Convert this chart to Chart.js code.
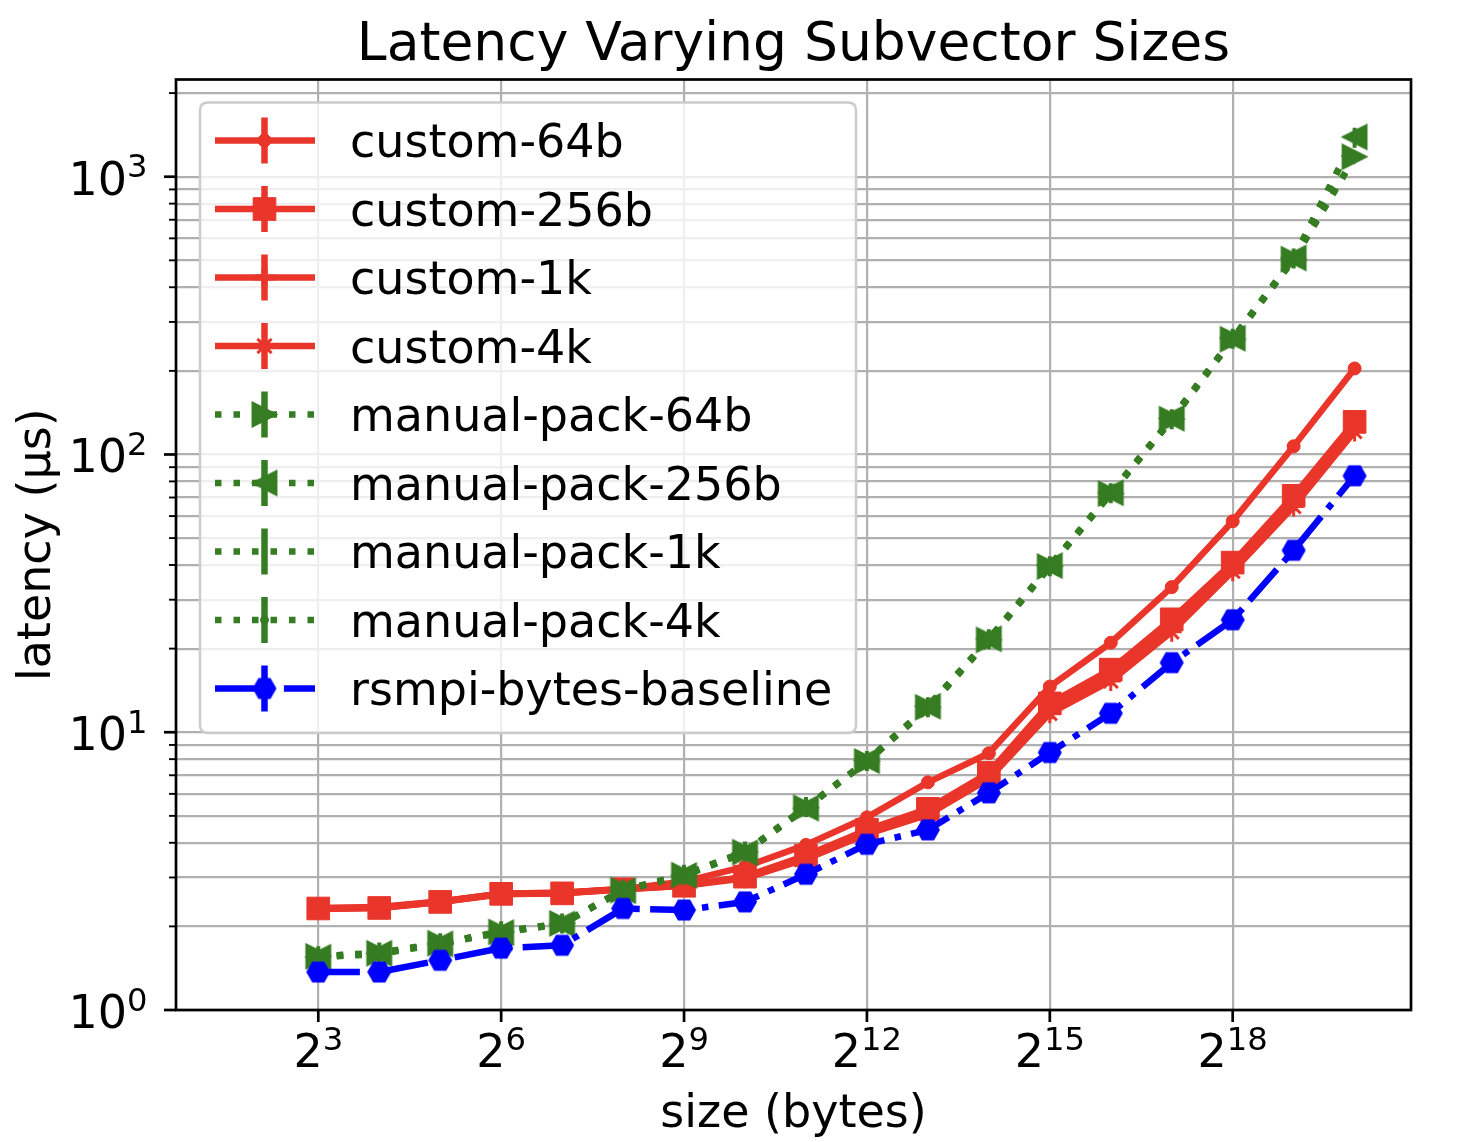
<!DOCTYPE html>
<html>
<head>
<meta charset="utf-8">
<script src="https://cdn.jsdelivr.net/npm/chart.js@4.4.1/dist/chart.umd.min.js"></script>
<style>
  html, body { margin: 0; padding: 0; background: #ffffff; }
  #wrap { width: 1472px; height: 1142px; position: relative; }
</style>
</head>
<body>
<div id="wrap"><canvas id="c" width="1472" height="1142"></canvas></div>
<script>
// ---------------- data ----------------
const sizes = [8, 16, 32, 64, 128, 256, 512, 1024, 2048, 4096, 8192, 16384, 32768, 65536, 131072, 262144, 524288, 1048576];

const custom64b  = [2.33, 2.35, 2.46, 2.62, 2.65, 2.72, 2.90, 3.28, 3.93, 4.94, 6.60, 8.40, 14.6, 21.0, 33.3, 57.5, 107, 204];
const custom256b = [2.32, 2.33, 2.45, 2.62, 2.63, 2.72, 2.80, 3.02, 3.60, 4.45, 5.30, 7.15, 12.7, 16.8, 25.5, 40.8, 71.0, 131];
const custom1k   = [2.32, 2.34, 2.46, 2.62, 2.64, 2.73, 2.82, 3.00, 3.55, 4.35, 5.15, 6.95, 12.1, 16.0, 24.5, 39.5, 68.0, 127];
const custom4k   = [2.31, 2.33, 2.45, 2.61, 2.63, 2.72, 2.80, 2.98, 3.50, 4.30, 5.05, 6.80, 11.7, 15.3, 23.0, 38.0, 65.0, 121];

const manual64b  = [1.56, 1.60, 1.74, 1.91, 2.05, 2.70, 3.06, 3.70, 5.35, 7.85, 12.3, 21.5, 39.5, 72.3, 134, 260, 505, 1180];
const manual256b = [1.55, 1.60, 1.73, 1.90, 2.04, 2.69, 3.05, 3.68, 5.33, 7.90, 12.4, 21.7, 39.8, 72.8, 135, 262, 510, 1390];
const manual1k   = [1.56, 1.61, 1.74, 1.92, 2.05, 2.71, 3.07, 3.72, 5.38, 7.88, 12.3, 21.6, 39.6, 72.5, 134, 261, 508, 1380];
const manual4k   = [1.55, 1.59, 1.73, 1.91, 2.04, 2.70, 3.05, 3.69, 5.34, 7.84, 12.2, 21.4, 39.4, 72.1, 133, 259, 503, 1170];

const rsmpiBaseline = [1.37, 1.37, 1.51, 1.67, 1.71, 2.32, 2.29, 2.45, 3.08, 3.95, 4.45, 6.05, 8.45, 11.7, 17.8, 25.4, 45.2, 83.8];

const seriesLabels = ['custom-64b', 'custom-256b', 'custom-1k', 'custom-4k',
  'manual-pack-64b', 'manual-pack-256b', 'manual-pack-1k', 'manual-pack-4k', 'rsmpi-bytes-baseline'];

const xTickExponents = [3, 6, 9, 12, 15, 18];
const yTickExponents = [0, 1, 2, 3];

const titleText = 'Latency Varying Subvector Sizes';
const xLabelText = 'size (bytes)';
const yLabelText = 'latency (µs)';

// ---------------- styles ----------------
const RED = '#e9352a';
const GREEN = '#367c22';
const BLUE = '#0000ff';
const LW = 6.5;
const DOTTED = [6.5, 12];
const DASHDOT = [41.6, 10.4, 6.5, 10.4];
const FONT = '"DejaVu Sans", "Liberation Sans", sans-serif';

function makeHex(color, r) {
  const s = Math.ceil(2 * r + 2);
  const c = document.createElement('canvas');
  c.width = s; c.height = s;
  const g = c.getContext('2d');
  g.fillStyle = color;
  g.beginPath();
  for (let k = 0; k < 6; k++) {
    const a = k * Math.PI / 3;
    const px = s / 2 + r * Math.cos(a), py = s / 2 + r * Math.sin(a);
    if (k === 0) g.moveTo(px, py); else g.lineTo(px, py);
  }
  g.closePath();
  g.fill();
  return c;
}
// matplotlib-style triangle (bbox-centred), dir = 1 -> right, -1 -> left
function makeTri(color, h, dir) {
  const s = Math.ceil(2 * h + 4);
  const c = document.createElement('canvas');
  c.width = s; c.height = s;
  const g = c.getContext('2d');
  const m = s / 2;
  g.fillStyle = color;
  g.strokeStyle = color;
  g.lineWidth = 1.5;
  g.lineJoin = 'miter';
  g.beginPath();
  g.moveTo(m + dir * h, m);
  g.lineTo(m - dir * h, m - h);
  g.lineTo(m - dir * h, m + h);
  g.closePath();
  g.fill();
  g.stroke();
  return c;
}
const hexImg = makeHex(BLUE, 12);
const triRight = makeTri(GREEN, 12.2, 1);
const triLeft = makeTri(GREEN, 12.2, -1);

function mk(label, values, color, dash, style, radius, rotation, pbw, order) {
  return {
    label,
    data: sizes.map((s, i) => ({ x: s, y: values[i] })),
    borderColor: color,
    backgroundColor: color,
    borderWidth: LW,
    borderDash: dash,
    borderJoinStyle: 'round',
    borderCapStyle: 'butt',
    pointStyle: style,
    pointRadius: radius,
    pointHoverRadius: radius,
    pointRotation: rotation,
    pointBorderWidth: pbw,
    pointBackgroundColor: color,
    pointBorderColor: color,
    tension: 0,
    fill: false,
    order
  };
}

const datasets = [
  mk(seriesLabels[0], custom64b,  RED,   [], 'circle', 6.5, 0, 1, 8),
  mk(seriesLabels[1], custom256b, RED,   [], 'rect', 16, 0, 1, 7),
  mk(seriesLabels[2], custom1k,   RED,   [], 'cross', 10, 0, 6, 6),
  mk(seriesLabels[3], custom4k,   RED,   [], 'star', 10, 0, 3, 5),
  mk(seriesLabels[4], manual64b,  GREEN, DOTTED, triRight, 13, 0, 0, 4),
  mk(seriesLabels[5], manual256b, GREEN, DOTTED, triLeft, 13, 0, 0, 3),
  mk(seriesLabels[6], manual1k,   GREEN, DOTTED, 'line', 10, 90, 4, 2),
  mk(seriesLabels[7], manual4k,   GREEN, DOTTED, 'circle', 4, 0, 1, 1),
  mk(seriesLabels[8], rsmpiBaseline, BLUE, DASHDOT, hexImg, 12, 0, 0, 0)
];

// ---------------- decorations plugin ----------------
function drawPower(ctx, base, exp, xLeft, baseY, expY, size) {
  ctx.font = size + 'px ' + FONT;
  ctx.fillText(base, xLeft, baseY);
  const wb = ctx.measureText(base).width;
  ctx.font = (size * 0.7) + 'px ' + FONT;
  ctx.fillText(exp, xLeft + wb, expY);
}
function powWidth(ctx, base, exp, size) {
  ctx.font = size + 'px ' + FONT;
  const wb = ctx.measureText(base).width;
  ctx.font = (size * 0.7) + 'px ' + FONT;
  return wb + ctx.measureText(exp).width;
}

const decor = {
  id: 'decor',
  afterDatasetsDraw(chart) {
    const ctx = chart.ctx;
    const ca = chart.chartArea;
    const xs = chart.scales.x, ys = chart.scales.y;
    const TS = 46;
    ctx.save();
    ctx.setLineDash([]);
    ctx.fillStyle = '#000';
    ctx.strokeStyle = '#000';
    ctx.textBaseline = 'alphabetic';
    ctx.textAlign = 'left';

    // spines
    ctx.lineWidth = 2.7;
    ctx.strokeRect(ca.left, ca.top, ca.right - ca.left, ca.bottom - ca.top);

    // x ticks
    ctx.lineWidth = 2.7;
    xTickExponents.forEach(e => {
      const px = xs.getPixelForValue(Math.pow(2, e));
      ctx.beginPath(); ctx.moveTo(px, ca.bottom); ctx.lineTo(px, ca.bottom + 12); ctx.stroke();
      const w = powWidth(ctx, '2', String(e), TS);
      drawPower(ctx, '2', String(e), px - w / 2, ca.bottom + 57, ca.bottom + 40, TS);
    });

    // y ticks (major + minor)
    yTickExponents.forEach(e => {
      const py = ys.getPixelForValue(Math.pow(10, e));
      ctx.lineWidth = 2.7;
      ctx.beginPath(); ctx.moveTo(ca.left, py); ctx.lineTo(ca.left - 12, py); ctx.stroke();
      const w = powWidth(ctx, '10', String(e), TS);
      drawPower(ctx, '10', String(e), ca.left - 28.5 - w, py + 18, py + 0.5, TS);
    });
    ctx.lineWidth = 1.9;
    ys.ticks.forEach(t => {
      const lg = Math.log10(t.value);
      if (Math.abs(lg - Math.round(lg)) < 1e-9) return;
      const py = ys.getPixelForValue(t.value);
      ctx.beginPath(); ctx.moveTo(ca.left, py); ctx.lineTo(ca.left - 7, py); ctx.stroke();
    });

    // title
    ctx.font = '53.5px ' + FONT;
    ctx.textAlign = 'center';
    ctx.fillText(titleText, (ca.left + ca.right) / 2, 60);

    // x label
    ctx.font = TS + 'px ' + FONT;
    ctx.fillText(xLabelText, (ca.left + ca.right) / 2, 1127);

    // y label
    ctx.save();
    ctx.translate(50, (ca.top + ca.bottom) / 2);
    ctx.rotate(-Math.PI / 2);
    ctx.fillText(yLabelText, 0, 0);
    ctx.restore();

    // legend
    const lx = 200, ly = 102.5, lw = 656, lh = 630.5, rr = 8;
    ctx.beginPath();
    ctx.moveTo(lx + rr, ly);
    ctx.lineTo(lx + lw - rr, ly);
    ctx.quadraticCurveTo(lx + lw, ly, lx + lw, ly + rr);
    ctx.lineTo(lx + lw, ly + lh - rr);
    ctx.quadraticCurveTo(lx + lw, ly + lh, lx + lw - rr, ly + lh);
    ctx.lineTo(lx + rr, ly + lh);
    ctx.quadraticCurveTo(lx, ly + lh, lx, ly + lh - rr);
    ctx.lineTo(lx, ly + rr);
    ctx.quadraticCurveTo(lx, ly, lx + rr, ly);
    ctx.closePath();
    ctx.fillStyle = 'rgba(255,255,255,0.8)';
    ctx.fill();
    ctx.strokeStyle = '#cccccc';
    ctx.lineWidth = 2.5;
    ctx.stroke();

    ctx.textAlign = 'left';
    chart.data.datasets.forEach((d, i) => {
      const cy = 140.5 + i * 68.5;
      // line sample
      ctx.save();
      ctx.strokeStyle = d.borderColor;
      ctx.lineWidth = LW;
      ctx.lineCap = 'butt';
      ctx.setLineDash(d.borderDash || []);
      ctx.beginPath(); ctx.moveTo(215, cy); ctx.lineTo(315, cy); ctx.stroke();
      ctx.setLineDash([]);
      // error bar
      ctx.lineWidth = 6.5;
      ctx.beginPath(); ctx.moveTo(264.5, cy - 23); ctx.lineTo(264.5, cy + 23); ctx.stroke();
      // marker
      ctx.fillStyle = d.pointBackgroundColor;
      ctx.strokeStyle = d.pointBorderColor;
      ctx.lineWidth = d.pointBorderWidth;
      Chart.helpers.drawPoint(ctx, {
        pointStyle: d.pointStyle,
        rotation: d.pointRotation,
        radius: d.pointRadius,
        borderWidth: d.pointBorderWidth
      }, 264.5, cy);
      ctx.restore();
      // text
      ctx.fillStyle = '#000';
      ctx.font = TS + 'px ' + FONT;
      ctx.fillText(d.label, 350, cy + 16.5);
    });

    ctx.restore();
  }
};

// ---------------- chart ----------------
const yGridValues = [];
yTickExponents.forEach(e => {
  for (let m = 1; m <= 9; m++) yGridValues.push(m * Math.pow(10, e));
});

new Chart(document.getElementById('c'), {
  type: 'line',
  data: { datasets },
  options: {
    responsive: false,
    animation: false,
    devicePixelRatio: 1,
    layout: { padding: { top: 79.5, right: 61, bottom: 0, left: 0 } },
    plugins: {
      legend: { display: false },
      title: { display: false },
      tooltip: { enabled: false }
    },
    scales: {
      x: {
        type: 'logarithmic',
        position: 'bottom',
        min: Math.pow(2, 0.666),
        max: Math.pow(2, 20.925),
        bounds: 'data',
        border: { display: false },
        grid: { color: '#b0b0b0', lineWidth: 2.2, drawTicks: false },
        ticks: { display: false },
        afterBuildTicks: s => { s.ticks = xTickExponents.map(e => ({ value: Math.pow(2, e) })); },
        afterFit: s => { s.height = 132; }
      },
      y: {
        type: 'logarithmic',
        position: 'left',
        min: 1,
        max: Math.pow(10, 3.35),
        bounds: 'data',
        border: { display: false },
        grid: { color: '#b0b0b0', lineWidth: 2.2, drawTicks: false },
        ticks: { display: false },
        afterBuildTicks: s => { s.ticks = yGridValues.filter(v => v <= s.max).map(v => ({ value: v })); },
        afterFit: s => { s.width = 176; }
      }
    }
  },
  plugins: [decor]
});
</script>
</body>
</html>
